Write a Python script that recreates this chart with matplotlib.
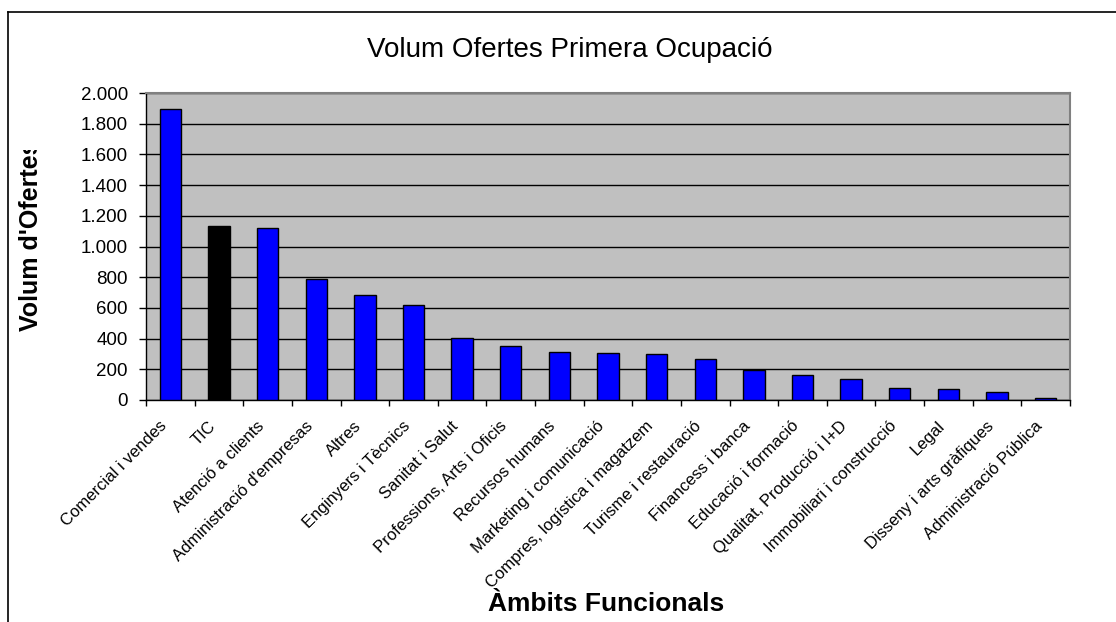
import numpy as np
import matplotlib
matplotlib.use("Agg")
import matplotlib.pyplot as plt
from matplotlib.lines import Line2D
from matplotlib.transforms import Bbox, ScaledTranslation

plt.rcParams['font.family'] = ['Liberation Sans', 'DejaVu Sans']

ambits = ["Comercial i vendes", "TIC", "Atenció a clients", "Administració d'empresas",
          "Altres", "Enginyers i Tècnics", "Sanitat i Salut", "Professions, Arts i Oficis",
          "Recursos humans", "Marketing i comunicació", "Compres, logística i magatzem",
          "Turisme i restauració", "Financess i banca", "Educació i formació",
          "Qualitat, Producció i I+D", "Immobiliari i construcció", "Legal",
          "Disseny i arts gràfiques", "Administració Pública"]
ofertes = [1897, 1135, 1118, 786, 682, 621, 407, 349, 310, 304, 297, 270,
           198, 166, 135, 81, 72, 54, 15]
colors = ["#0000FF"] * len(ambits)
colors[1] = "#000000"  # TIC destacat

W, H = 1116, 622
fig = plt.figure(figsize=(W / 100, H / 100), dpi=100)
ax = fig.add_axes([146 / W, 1 - 400 / H, (1070 - 146) / W, (400 - 93) / H])

x = np.arange(len(ambits))
ax.bar(x, ofertes, width=0.44, color=colors, edgecolor="black", linewidth=1, zorder=3)

ax.set_facecolor("#C0C0C0")
ax.set_xlim(-0.5, len(ambits) - 0.5)
ax.set_ylim(0, 2000)
ax.set_yticks(np.arange(0, 2001, 200))
ax.set_yticklabels([f"{v:,}".replace(",", ".") for v in range(0, 2001, 200)], fontsize=13.5)
ax.yaxis.grid(True, color="black", linewidth=1, zorder=1)
ax.set_axisbelow(True)
ax.tick_params(axis="y", length=5, width=1, pad=8, direction="out")

# category boundary ticks and centred labels
ax.set_xticks(np.arange(-0.5, len(ambits)), minor=True)
ax.set_xticks(x)
ax.tick_params(axis="x", which="minor", length=4, width=1, direction="out")
ax.tick_params(axis="x", which="major", length=0, pad=17)
ax.set_xticklabels(ambits, rotation=45, ha="right", va="center",
                   rotation_mode="anchor", fontsize=12)
shift = ScaledTranslation(-6 / 100, 0, fig.dpi_scale_trans)
for lab in ax.get_xticklabels():
    lab.set_transform(lab.get_transform() + shift)

for side in ["left", "bottom"]:
    ax.spines[side].set_color("black")
    ax.spines[side].set_linewidth(1)
for side in ["top", "right"]:
    ax.spines[side].set_color("#808080")
    ax.spines[side].set_linewidth(1.5)

# title and axis labels
fig.text(570 / W, 1 - 50 / H, "Volum Ofertes Primera Ocupació", fontsize=20,
         ha="center", va="center")
fig.text(606 / W, 1 - 604 / H, "Àmbits Funcionals", fontsize=19, fontweight="bold",
         ha="center", va="center")
ylab = fig.text(31 / W, 1 - 331 / H, "Volum d'Ofertes", fontsize=18, fontweight="bold",
                rotation=90, ha="center", va="bottom")
ylab.set_clip_box(Bbox([[0, 0], [200, H - 150]]))
ylab.set_clip_on(True)

# chart area frame
fig.add_artist(Line2D([8 / W, 1], [1 - 12 / H, 1 - 12 / H], color="black", linewidth=1.2))
fig.add_artist(Line2D([8 / W, 8 / W], [0, 1 - 12 / H], color="black", linewidth=1.2))

fig.savefig("out.png", dpi=100, facecolor="white")
